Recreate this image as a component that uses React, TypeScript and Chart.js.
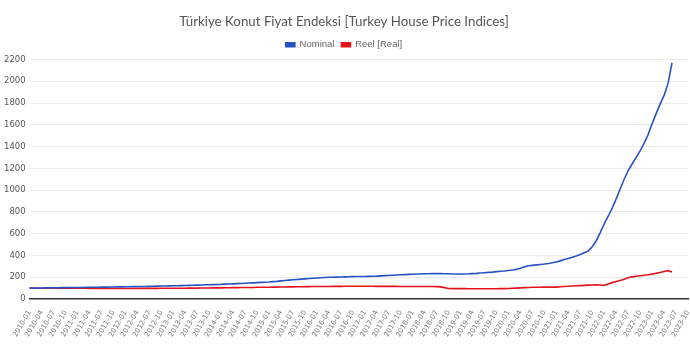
import React, { useEffect, useRef } from "react";
import { Chart, registerables } from "chart.js";

Chart.register(...registerables);

const YEARS = ["2010", "2011", "2012", "2013", "2014", "2015", "2016", "2017", "2018", "2019", "2020", "2021", "2022", "2023"];
const MONTHS = ["01", "02", "03", "04", "05", "06", "07", "08", "09", "10", "11", "12"];
const LAST_LABEL = "2023-10";
const QUARTER_MONTHS = ["01", "04", "07", "10"];

const TITLE = "Türkiye Konut Fiyat Endeksi [Turkey House Price Indices]";
const SERIES_NAMES = ["Nominal", "Reel [Real]"];

// 2010-01 .. 2023-06, monthly
const nominal = [
  100, 100, 101, 101, 102, 102, 103, 103, 104, 104, 105, 105,
  106, 106, 107, 107, 108, 108, 109, 109, 110, 110, 111, 111,
  112, 112, 113, 114, 114, 115, 116, 117, 118, 119, 119, 120,
  121, 122, 123, 124, 125, 126, 127, 128, 130, 131, 132, 133,
  134, 136, 137, 139, 141, 142, 144, 146, 148, 150, 152, 154,
  156, 159, 162, 166, 170, 173, 176, 179, 182, 185, 188, 191,
  193, 195, 197, 199, 200, 201, 202, 203, 204, 205, 206, 207,
  207, 208, 209, 210, 212, 214, 216, 218, 220, 222, 224, 226,
  227, 229, 230, 231, 232, 233, 233, 233, 232, 231, 230, 229,
  229, 230, 231, 233, 235, 238, 241, 244, 247, 251, 254, 257,
  261, 266, 272, 283, 295, 305, 309, 313, 317, 321, 326, 332,
  340, 350, 362, 372, 383, 395, 408, 425, 442, 480, 535, 610,
  690, 760, 835, 920, 1010, 1100, 1180, 1240, 1300, 1360, 1430, 1510,
  1610, 1700, 1790, 1870, 1980, 2170,
];

const real = [
  100, 100, 99, 99, 99, 99, 98, 98, 98, 98, 98, 98,
  98, 98, 98, 97, 97, 97, 97, 97, 97, 96, 96, 96,
  96, 96, 96, 97, 97, 97, 97, 97, 97, 98, 98, 98,
  98, 99, 99, 99, 100, 100, 100, 101, 101, 101, 102, 102,
  102, 103, 103, 104, 104, 105, 105, 106, 106, 107, 107, 108,
  108, 109, 109, 110, 110, 111, 111, 112, 112, 113, 113, 114,
  114, 114, 115, 115, 116, 116, 116, 117, 117, 117, 117, 117,
  117, 117, 117, 116, 116, 116, 116, 116, 116, 115, 115, 115,
  115, 115, 115, 115, 114, 114, 113, 111, 104, 96, 95, 95,
  95, 95, 94, 94, 94, 94, 94, 94, 94, 94, 95, 95,
  96, 98, 100, 102, 104, 106, 108, 108, 108, 109, 109, 109,
  109, 112, 115, 117, 119, 121, 123, 125, 127, 129, 131, 128,
  125, 138, 150, 160, 170, 182, 195, 203, 208, 213, 218, 222,
  228, 236, 244, 252, 260, 248,
];

const Y_MAX = 2200;
const Y_STEP = 200;

const labels: string[] = [];
for (const y of YEARS) {
  for (const m of MONTHS) {
    const l = `${y}-${m}`;
    if (l <= LAST_LABEL) labels.push(l);
  }
}

export default function App() {
  const ref = useRef<HTMLCanvasElement | null>(null);
  useEffect(() => {
    if (!ref.current) return;
    const chart = new Chart(ref.current, {
      type: "line",
      data: {
        labels,
        datasets: [
          {
            label: SERIES_NAMES[0],
            data: nominal,
            borderColor: "#2753c2",
            backgroundColor: "#2753c2",
            borderWidth: 1.6,
            pointRadius: 0,
            tension: 0,
          },
          {
            label: SERIES_NAMES[1],
            data: real,
            borderColor: "#e3141f",
            backgroundColor: "#e3141f",
            borderWidth: 1.6,
            pointRadius: 0,
            tension: 0,
          },
        ],
      },
      options: {
        animation: false,
        responsive: true,
        maintainAspectRatio: false,
        layout: { padding: { left: 0, right: 2, top: 6, bottom: 15.5 } },
        plugins: {
          title: {
            display: true,
            text: TITLE,
            color: "#555",
            font: { family: "Lato, 'Noto Sans', sans-serif", size: 13.3, weight: "normal" },
            padding: { top: 8, bottom: 3 },
          },
          legend: {
            display: true,
            labels: {
              boxWidth: 9,
              boxHeight: 4,
              padding: 7,
              color: "#666",
              font: { family: "'Liberation Sans Narrow', 'Liberation Sans', sans-serif", size: 9.5 },
            },
          },
          tooltip: { enabled: false },
        },
        scales: {
          x: {
            grid: { display: false },
            border: { display: true, color: "#333", width: 1.5 },
            ticks: {
              autoSkip: false,
              minRotation: 60,
              maxRotation: 60,
              color: "#777",
              font: { family: "'DejaVu Sans', sans-serif", size: 7 },
              padding: 2,
              callback: function (this: any, value: any, index: number) {
                const l = labels[index];
                return QUARTER_MONTHS.includes(l.slice(5)) ? l : null;
              },
            },
            afterFit: (scale: any) => {
              scale.paddingRight = 0;
            },
          },
          y: {
            min: 0,
            max: Y_MAX,
            grid: { color: "#ececec", drawTicks: false },
            border: { display: false },
            ticks: {
              stepSize: Y_STEP,
              color: "#555",
              padding: 4,
              font: { family: "'DejaVu Sans', sans-serif", size: 8.5 },
              callback: (v: any) => String(v),
            },
          },
        },
      },
    });
    return () => chart.destroy();
  }, []);
  return (
    <div style={{ position: "absolute", left: 0, top: 0, width: 690, height: 356 }}>
      <canvas ref={ref} />
    </div>
  );
}
